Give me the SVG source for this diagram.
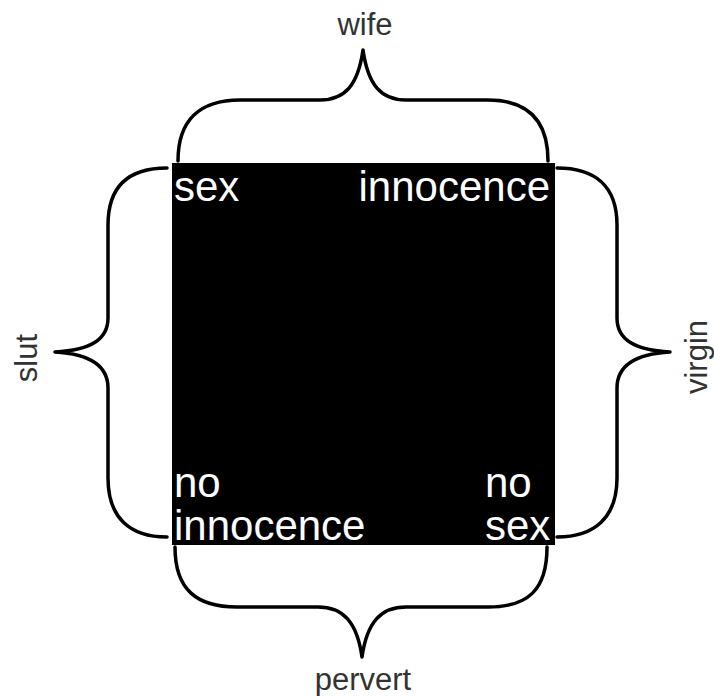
<svg xmlns="http://www.w3.org/2000/svg" width="714" height="696" viewBox="0 0 714 696">
<style>
.brace{fill:none;stroke:#000;stroke-width:3.5;stroke-linecap:round;stroke-linejoin:round}
.lbl{font-family:"Liberation Sans",Arial,sans-serif;font-size:31px;fill:#333;text-anchor:middle}
.in{font-family:"Liberation Sans",Arial,sans-serif;font-size:42px;fill:#fff}
</style>
<rect width="714" height="696" fill="#fff"/>
<g id="square">
<rect x="172" y="163" width="383" height="382" fill="#000"/>
<text class="in" x="174" y="201">sex</text>
<text class="in" x="550" y="201" text-anchor="end">innocence</text>
<text class="in" x="174" y="497">no</text>
<text class="in" x="174" y="540">innocence</text>
<text class="in" x="485" y="497">no</text>
<text class="in" x="485" y="540">sex</text>
</g>
<g id="connectors">
<path class="brace" d="M178,161 C178,120 200,100 240,100 L320,100 C345,100 358,85 363,50 C368,85 381,100 406,100 L488,100 C528,100 548,120 548,161"/>
<path class="brace" d="M175,547 C175,590 197,607 237,607 L318,607 C343,607 357,622 362,657 C367,622 381,607 406,607 L488,607 C528,607 547,590 547,547"/>
<path class="brace" d="M167,168 C130,168 108,185 108,225 L108,318 C108,340 90,350 55,352 C90,354 108,366 108,388 L108,478 C108,518 130,537 167,537"/>
<path class="brace" d="M557,168 C594,168 617,185 617,225 L617,318 C617,340 635,350 670,352 C635,354 617,366 617,388 L617,478 C617,518 594,537 557,537"/>
</g>
<g id="wife"><text class="lbl" x="365" y="35">wife</text></g>
<g id="pervert"><text class="lbl" x="363" y="690">pervert</text></g>
<g id="slut"><text class="lbl" x="37" y="358" transform="rotate(-90 37 358)">slut</text></g>
<g id="virgin"><text class="lbl" x="707" y="357" transform="rotate(-90 707 357)">virgin</text></g>
</svg>
